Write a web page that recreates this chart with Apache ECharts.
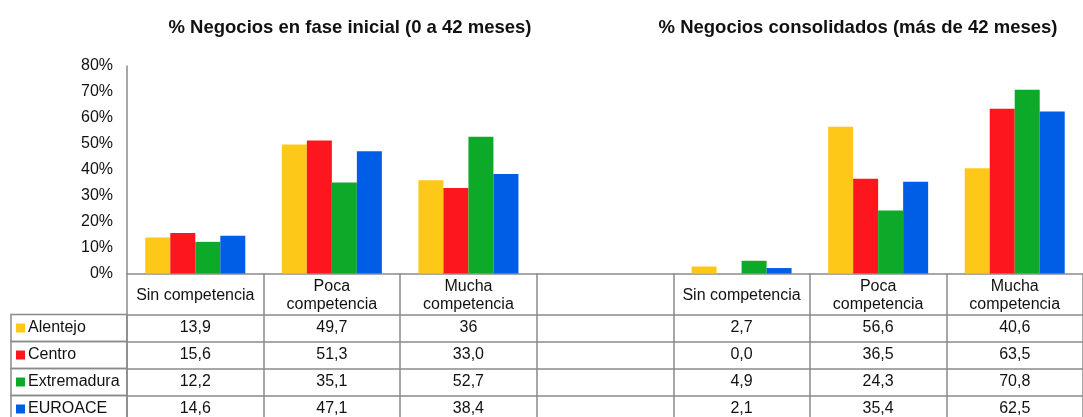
<!DOCTYPE html>
<html>
<head>
<meta charset="utf-8">
<script src="https://cdn.jsdelivr.net/npm/echarts@6/dist/echarts.min.js"></script>
<style>
  html, body { margin: 0; padding: 0; background: #fff; }
  #chart { width: 1083px; height: 417px; }
</style>
</head>
<body>
<div id="chart"></div>
<script>
// categorias (la cuarta es el hueco entre los dos bloques)
var categorias = ['Sin competencia', 'Poca\ncompetencia', 'Mucha\ncompetencia', '', 'Sin competencia', 'Poca\ncompetencia', 'Mucha\ncompetencia'];
var regiones = ['Alentejo', 'Centro', 'Extremadura', 'EUROACE'];
var colores = ['#fdc818', '#fe161f', '#0daa2a', '#005de6'];
var titulos = ['% Negocios en fase inicial (0 a 42 meses)', '% Negocios consolidados (más de 42 meses)'];

// valores tal como aparecen en la tabla
var alentejo    = ['13,9', '49,7', '36',   '', '2,7', '56,6', '40,6'];
var centro      = ['15,6', '51,3', '33,0', '', '0,0', '36,5', '63,5'];
var extremadura = ['12,2', '35,1', '52,7', '', '4,9', '24,3', '70,8'];
var euroace     = ['14,6', '47,1', '38,4', '', '2,1', '35,4', '62,5'];
var filas = [alentejo, centro, extremadura, euroace];

var yTicks = [0, 10, 20, 30, 40, 50, 60, 70, 80];

var FONT = '"Liberation Sans", Arial, sans-serif';
var LINEA = '#8a8a8a';
var ALTO_CAB = 41;   // alto de la fila de cabecera
var ALTO_FILA = 27;  // alto de cada fila de datos

function aNumero(s) {
  return s === '' ? '-' : parseFloat(s.replace(',', '.'));
}

let chartDom = document.getElementById('chart');
let myChart = echarts.init(chartDom);

// eje de cabecera (categorias)
let xAxes = [{
  type: 'category',
  data: categorias,
  position: 'bottom',
  axisLine: { show: true, lineStyle: { color: LINEA, width: 1.5 } },
  axisTick: { show: true, interval: 0, length: ALTO_CAB, lineStyle: { color: LINEA, width: 1.5 } },
  axisLabel: {
    interval: 0, color: '#111', fontSize: 16, fontFamily: FONT,
    lineHeight: 18, verticalAlign: 'middle', margin: 22
  }
}];
// un eje por fila de la tabla
filas.forEach(function (fila, i) {
  xAxes.push({
    type: 'category',
    data: fila,
    position: 'bottom',
    offset: ALTO_CAB + ALTO_FILA * i,
    axisLine: { show: true, lineStyle: { color: LINEA, width: 1.5 } },
    axisTick: { show: true, interval: 0, length: ALTO_FILA, lineStyle: { color: LINEA, width: 1.5 } },
    axisLabel: {
      interval: 0, color: '#111', fontSize: 16, fontFamily: FONT,
      verticalAlign: 'middle', margin: ALTO_FILA / 2
    }
  });
});

let option = {
  animation: false,
  backgroundColor: '#fff',
  title: [
    { text: titulos[0], left: 345, top: 13, textAlign: 'center',
      textStyle: { fontSize: 18.5, fontWeight: 'bold', color: '#111', fontFamily: FONT } },
    { text: titulos[1], left: 853, top: 13, textAlign: 'center',
      textStyle: { fontSize: 18.5, fontWeight: 'bold', color: '#111', fontFamily: FONT } }
  ],
  grid: { left: 127, right: 0, top: 66, bottom: 143 },
  xAxis: xAxes,
  yAxis: {
    type: 'value',
    min: yTicks[0],
    max: yTicks[yTicks.length - 1],
    interval: 10,
    axisLine: { show: true, lineStyle: { color: LINEA, width: 1.5 } },
    axisTick: { show: false },
    splitLine: { show: false },
    axisLabel: { formatter: '{value}%', color: '#111', fontSize: 16, fontFamily: FONT, margin: 14 }
  },
  series: regiones.map(function (nombre, i) {
    return {
      name: nombre,
      type: 'bar',
      xAxisIndex: 0,
      barWidth: 25,
      barGap: '0%',
      itemStyle: { color: colores[i] },
      data: filas[i].map(aNumero)
    };
  })
};
myChart.setOption(option);

// columna izquierda con los nombres de las regiones
let y0 = myChart.convertToPixel({ yAxisIndex: 0 }, 0);
let x0 = myChart.convertToPixel({ xAxisIndex: 0 }, 0) - myChart.getModel().getComponent('xAxis', 0).axis.getBandWidth() / 2;
let elementos = [];
regiones.forEach(function (nombre, i) {
  let top = y0 + ALTO_CAB + ALTO_FILA * i;
  elementos.push({
    type: 'rect',
    shape: { x: 11, y: top, width: x0 - 11, height: ALTO_FILA },
    style: { fill: 'none', stroke: LINEA, lineWidth: 1.5 }
  });
  elementos.push({
    type: 'rect',
    shape: { x: 16, y: top + ALTO_FILA / 2 - 4.5, width: 9, height: 9 },
    style: { fill: colores[i] }
  });
  elementos.push({
    type: 'text',
    x: 28, y: top + ALTO_FILA / 2,
    style: { text: nombre, fill: '#111', font: '16px ' + FONT, verticalAlign: 'middle' }
  });
});
myChart.setOption({ graphic: elementos });

window.onresize = myChart.resize;
</script>
</body>
</html>
